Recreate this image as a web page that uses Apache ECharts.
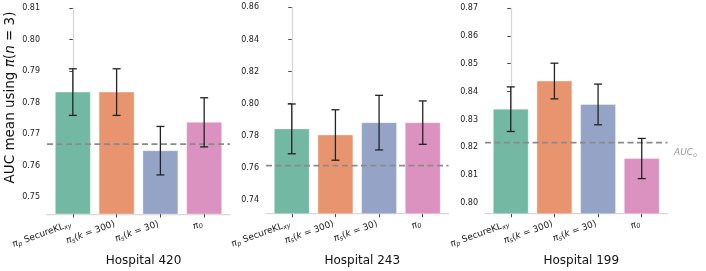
<!DOCTYPE html>
<html>
<head>
<meta charset="utf-8">
<script src="https://cdn.jsdelivr.net/npm/echarts@6/dist/echarts.min.js"></script>
<style>html,body{margin:0;padding:0;background:#fff;}#c{width:706px;height:271px;}</style>
</head>
<body>
<div id="c"></div>
<script>
// ---- data ----
const categoryLabels = [
  '{m|π}{sub|p}{n| SecureKL}{sub2|xy}',
  '{m|π}{sub|s}{n|(}{m|k}{n| = 300)}',
  '{m|π}{sub|s}{n|(}{m|k}{n| = 30)}',
  '{m|π}{sub2|0}'
];
const hospitals = ['Hospital 420', 'Hospital 243', 'Hospital 199'];
const means420 = [0.7833, 0.7833, 0.7647, 0.7737];
const errs420  = [0.0074, 0.0074, 0.0077, 0.0078];
const base420  = 0.7668;
const means243 = [0.7843, 0.7805, 0.7882, 0.7882];
const errs243  = [0.0155, 0.0157, 0.0170, 0.0135];
const base243  = 0.7614;
const means199 = [0.8337, 0.8438, 0.8354, 0.8160];
const errs199  = [0.0080, 0.0064, 0.0073, 0.0072];
const base199  = 0.8217;
const yTicks420 = [0.75, 0.76, 0.77, 0.78, 0.79, 0.80, 0.81];
const yTicks243 = [0.74, 0.76, 0.78, 0.80, 0.82, 0.84, 0.86];
const yTicks199 = [0.80, 0.81, 0.82, 0.83, 0.84, 0.85, 0.86, 0.87];
const yRange420 = [0.7446, 0.81];
const yRange243 = [0.7315, 0.86];
const yRange199 = [0.7962, 0.87];
const baselineLabel = 'AUC';
const baselineSub = 'o';

// ---- style ----
const palette = ['#72b8a2', '#e8956f', '#95a4c6', '#dc92c0'];
const FONT = 'DejaVu Sans';
const X_MIN = -0.59, X_MAX = 3.59;
const grids = [
  {left: 47, top: 8, width: 183, height: 206},
  {left: 266, top: 7.3, width: 182.5, height: 206.4},
  {left: 485, top: 8, width: 182.5, height: 205.7}
];
const panels = [
  {means: means420, errs: errs420, base: base420, ticks: yTicks420, range: yRange420},
  {means: means243, errs: errs243, base: base243, ticks: yTicks243, range: yRange243},
  {means: means199, errs: errs199, base: base199, ticks: yTicks199, range: yRange199}
];
const catIdx = [0, 1, 2, 3];

const rich = {
  m: {fontFamily: FONT, fontStyle: 'italic', fontSize: 9, color: '#222'},
  n: {fontFamily: FONT, fontSize: 9, color: '#222'},
  sub: {fontFamily: FONT, fontStyle: 'italic', fontSize: 6.5, color: '#222', verticalAlign: 'bottom', padding: [4, 0, 0, 0]},
  sub2: {fontFamily: FONT, fontStyle: 'italic', fontSize: 6.5, color: '#222', verticalAlign: 'bottom', padding: [4, 0, 0, 0]}
};

const option = {
  animation: false,
  backgroundColor: '#fff',
  textStyle: {fontFamily: FONT},
  grid: grids,
  title: hospitals.map((h, i) => ({
    text: h,
    left: grids[i].left + grids[i].width / 2,
    top: 250,
    textAlign: 'center',
    textStyle: {fontFamily: FONT, fontSize: 12, fontWeight: 'normal', color: '#111'}
  })),
  xAxis: panels.map((p, i) => ({
    type: 'value', gridIndex: i, min: X_MIN, max: X_MAX,
    axisLine: {show: true, lineStyle: {color: '#d8d8d8', width: 1.25}},
    axisTick: {show: true, customValues: catIdx, length: 3.5, lineStyle: {color: '#333', width: 0.9}},
    axisLabel: {
      show: true, customValues: catIdx, rotate: 20, margin: 9, padding: [0, 2, 0, 0],
      formatter: v => categoryLabels[Math.round(v)], rich: rich,
      fontFamily: FONT, fontSize: 9, color: '#222'
    },
    splitLine: {show: false}
  })),
  yAxis: panels.map((p, i) => ({
    type: 'value', gridIndex: i, min: p.range[0], max: p.range[1],
    axisLine: {show: true, lineStyle: {color: '#d8d8d8', width: 1.25}},
    axisTick: {show: true, customValues: p.ticks, length: 3.5, lineStyle: {color: '#333', width: 0.9}},
    axisLabel: {
      show: true, customValues: p.ticks, margin: 7,
      formatter: v => v.toFixed(2), fontFamily: FONT, fontSize: 8, color: '#222'
    },
    splitLine: {show: false}
  })),
  graphic: [
    {
      type: 'text', x: 10, y: 97.5, rotation: Math.PI / 2,
      style: {
        text: 'AUC mean using {m|π}({m|n} = 3)',
        rich: {m: {fontFamily: FONT, fontStyle: 'italic', fontSize: 13.5, fill: '#111'}},
        fontFamily: FONT, fontSize: 13.5, fill: '#111', align: 'center', verticalAlign: 'middle'
      }
    },
    {
      type: 'text', x: 674, y: 153,
      style: {
        text: '{a|' + baselineLabel + '}{s|' + baselineSub + '}',
        rich: {
          a: {fontFamily: FONT, fontStyle: 'italic', fontSize: 9, fill: '#999'},
          s: {fontFamily: FONT, fontStyle: 'italic', fontSize: 6.5, fill: '#999', verticalAlign: 'bottom', padding: [4, 0, 0, 0]}
        },
        align: 'left', verticalAlign: 'middle'
      }
    }
  ],
  series: []
};

panels.forEach((p, gi) => {
  const yMin = p.range[0];
  // bars
  option.series.push({
    type: 'custom', xAxisIndex: gi, yAxisIndex: gi, z: 1,
    data: p.means.map((m, i) => [i, m]),
    renderItem: (params, api) => {
      const x = api.value(0), v = api.value(1);
      const a = api.coord([x - 0.4, v]);
      const b = api.coord([x + 0.4, yMin]);
      return {
        type: 'rect',
        shape: {x: a[0], y: a[1], width: b[0] - a[0], height: b[1] - a[1]},
        style: {fill: palette[params.dataIndex], stroke: 'rgba(255,255,255,0.35)', lineWidth: 1}
      };
    }
  });
  // baseline (horizontal dashed line across the axes)
  option.series.push({
    type: 'custom', xAxisIndex: gi, yAxisIndex: gi, z: 3,
    data: [[p.base]],
    renderItem: (params, api) => {
      const y = api.value(0);
      const a = api.coord([X_MIN, y]);
      const b = api.coord([X_MAX, y]);
      return {
        type: 'line',
        shape: {x1: a[0], y1: a[1], x2: b[0], y2: b[1]},
        style: {stroke: '#8a8a8a', lineWidth: 1.8, lineDash: [6, 3.5]}
      };
    }
  });
  // error bars
  option.series.push({
    type: 'custom', xAxisIndex: gi, yAxisIndex: gi, z: 4,
    data: p.means.map((m, i) => [i, m - p.errs[i], m + p.errs[i]]),
    renderItem: (params, api) => {
      const x = api.value(0);
      const lo = api.coord([x, api.value(1)]);
      const hi = api.coord([x, api.value(2)]);
      const cw = 4;
      const st = {stroke: '#222', lineWidth: 1.3};
      return {
        type: 'group',
        children: [
          {type: 'line', shape: {x1: lo[0], y1: lo[1], x2: hi[0], y2: hi[1]}, style: st},
          {type: 'line', shape: {x1: lo[0] - cw, y1: lo[1], x2: lo[0] + cw, y2: lo[1]}, style: st},
          {type: 'line', shape: {x1: hi[0] - cw, y1: hi[1], x2: hi[0] + cw, y2: hi[1]}, style: st}
        ]
      };
    }
  });
});

const chart = echarts.init(document.getElementById('c'), null, {renderer: 'canvas'});
chart.setOption(option);
</script>
</body>
</html>
